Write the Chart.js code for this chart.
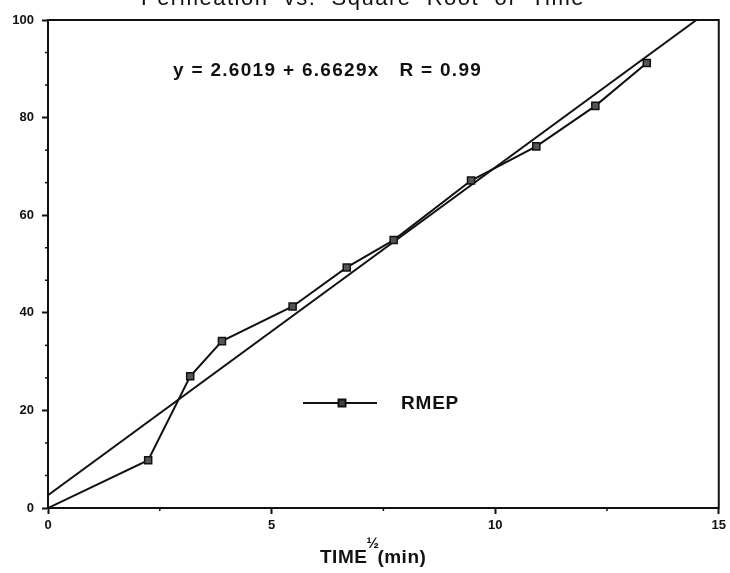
<!DOCTYPE html>
<html>
<head>
<meta charset="utf-8">
<script src="https://cdn.jsdelivr.net/npm/chart.js@4"></script>
<style>
  html, body { margin: 0; padding: 0; background: #fff; }
  canvas { display: block; }
</style>
</head>
<body>
<canvas id="permChart" width="730" height="573"></canvas>
<script>
// square root of time (min^1/2) and permeation values
const timeRoot = [0, 2.24, 3.18, 3.89, 5.47, 6.68, 7.73, 9.46, 10.92, 12.24, 13.39];
const permeation = [0, 9.8, 27.0, 34.2, 41.3, 49.3, 54.9, 67.1, 74.1, 82.4, 91.2];

// regression line end points
const fitX = [0, 14.5];
const fitY = [2.6, 100];

const xMinorTicks = [2.5, 7.5, 12.5];
const yMinorTicks = [6.67, 13.33, 26.67, 33.33, 46.67, 53.33, 66.67, 73.33, 86.67, 93.33];

const chartTitle = 'Permeation  vs.  Square  Root  of  Time';
const equationText = 'y = 2.6019 + 6.6629x   R = 0.99';
const seriesName = 'RMEP';

const ink = '#111';
const sans = '"Liberation Sans", Arial, sans-serif';

const toPoints = (xs, ys) => xs.map((x, i) => ({ x: x, y: ys[i] }));

// white page + frame + minor ticks + annotations
const decorations = {
    id: 'decorations',
    beforeDraw(chart) {
        const c = chart.ctx;
        c.save();
        c.fillStyle = '#fff';
        c.fillRect(0, 0, chart.width, chart.height);
        c.restore();
    },
    afterDraw(chart) {
        const c = chart.ctx;
        const area = chart.chartArea;
        const xs = chart.scales.x;
        const ys = chart.scales.y;
        c.save();
        c.strokeStyle = ink;
        c.lineWidth = 2;
        c.strokeRect(area.left, area.top, area.right - area.left, area.bottom - area.top);

        c.lineWidth = 1.5;
        yMinorTicks.forEach(v => {
            const py = ys.getPixelForValue(v);
            c.beginPath();
            c.moveTo(area.left - 3, py);
            c.lineTo(area.left, py);
            c.stroke();
        });
        xMinorTicks.forEach(v => {
            const px = xs.getPixelForValue(v);
            c.beginPath();
            c.moveTo(px, area.bottom);
            c.lineTo(px, area.bottom + 3);
            c.stroke();
        });

        c.fillStyle = ink;
        // title (cut off by the top edge, as in the scan)
        c.font = '22px ' + sans;
        c.letterSpacing = '1.5px';
        c.textAlign = 'center';
        c.textBaseline = 'alphabetic';
        c.fillText(chartTitle, 363, 5);

        // regression equation
        c.font = 'bold 19px ' + sans;
        c.letterSpacing = '1.3px';
        c.textAlign = 'left';
        c.textBaseline = 'middle';
        c.fillText(equationText, 173, 71);

        // legend
        c.lineWidth = 2;
        c.beginPath();
        c.moveTo(303, 403);
        c.lineTo(377, 403);
        c.stroke();
        c.fillStyle = '#444';
        c.fillRect(338.5, 399.5, 7, 7);
        c.strokeRect(338.5, 399.5, 7, 7);
        c.fillStyle = ink;
        c.font = 'bold 19px ' + sans;
        c.letterSpacing = '0.8px';
        c.fillText(seriesName, 401, 404);

        // x-axis title with superscript 1/2
        c.letterSpacing = '0.5px';
        c.textBaseline = 'alphabetic';
        c.font = 'bold 19px ' + sans;
        let x0 = 320;
        c.fillText('TIME', x0, 563);
        x0 += c.measureText('TIME').width - 1;
        c.font = 'bold 15px ' + sans;
        c.fillText('½', x0, 548);
        x0 += c.measureText('½').width - 2;
        c.font = 'bold 19px ' + sans;
        c.fillText('(min)', x0, 563);
        c.restore();
    }
};

const ctx = document.getElementById('permChart').getContext('2d');

const permChart = new Chart(ctx, {
    type: 'scatter',
    data: {
        datasets: [{
            label: seriesName,
            data: toPoints(timeRoot, permeation),
            showLine: true,
            borderColor: ink,
            borderWidth: 2,
            pointStyle: 'rect',
            pointRadius: c => (c.dataIndex === 0 ? 0 : 5),
            pointBorderWidth: 1.5,
            pointBorderColor: ink,
            pointBackgroundColor: '#555'
        }, {
            label: 'fit',
            data: toPoints(fitX, fitY),
            showLine: true,
            borderColor: ink,
            borderWidth: 2,
            pointRadius: 0
        }]
    },
    options: {
        responsive: false,
        animation: false,
        layout: { padding: { top: 20, right: 10, left: 0, bottom: 0 } },
        plugins: {
            legend: { display: false },
            tooltip: { enabled: false }
        },
        scales: {
            x: {
                type: 'linear',
                min: 0,
                max: 15,
                afterFit: s => { s.height = 65; },
                border: { color: ink, width: 2 },
                grid: { drawOnChartArea: false, tickLength: 6, tickColor: ink, tickWidth: 2 },
                ticks: { stepSize: 5, color: ink, font: { family: '"Liberation Sans", Arial', size: 13, weight: 'bold' }, padding: 4, maxRotation: 0 }
            },
            y: {
                min: 0,
                max: 100,
                afterFit: s => { s.width = 48; },
                border: { color: ink, width: 2 },
                grid: { drawOnChartArea: false, tickLength: 6, tickColor: ink, tickWidth: 2 },
                ticks: { stepSize: 20, color: ink, font: { family: '"Liberation Sans", Arial', size: 13, weight: 'bold' }, padding: 8 }
            }
        }
    },
    plugins: [decorations]
});
</script>
</body>
</html>
